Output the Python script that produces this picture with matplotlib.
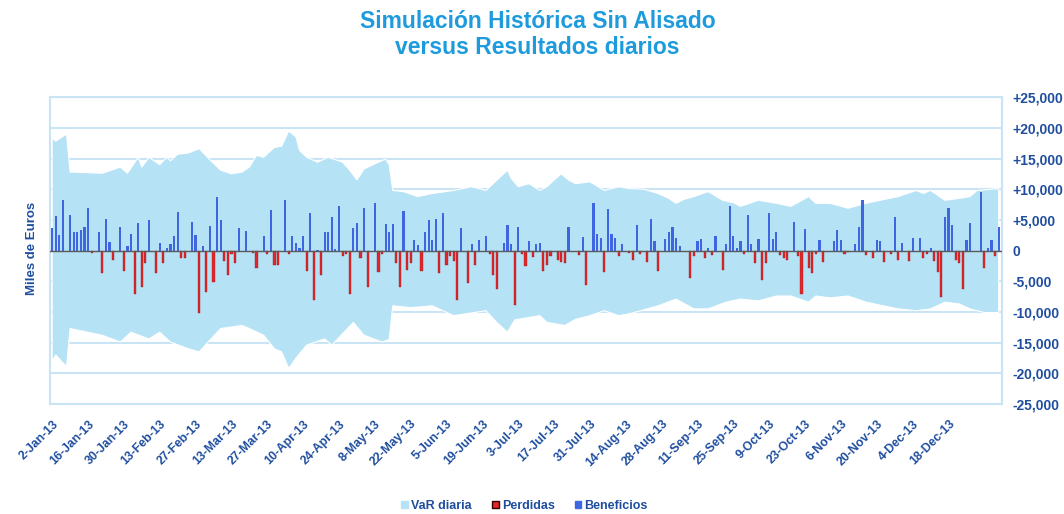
import matplotlib
matplotlib.use("Agg")
import matplotlib.pyplot as plt
import numpy as np
import pandas as pd
from matplotlib.ticker import FuncFormatter
from matplotlib.patches import Patch

plt.rcParams['font.family'] = ['Liberation Sans', 'DejaVu Sans']

# resultados diarios (miles de euros, en miles -> x1000), un valor por dia habil
resultados_k = [
    3.7, 5.6, 2.6, 8.2, 0.0, 5.8, 3.0, 3.0, 3.3, 3.9,
    6.9, -0.4, 0.0, 3.0, -3.6, 5.1, 1.4, -1.5, 0.0, 3.9,
    -3.3, 0.7, 2.7, -7.1, 4.5, -6.0, -2.0, 5.0, 0.0, -3.6,
    1.2, -2.0, 0.4, 1.0, 2.4, 6.3, -1.2, -1.2, 0.0, 4.6,
    2.6, -10.1, 0.7, -6.8, 4.0, -5.1, 8.8, 5.0, -1.7, -3.9,
    -0.6, -2.1, 3.7, 0.0, 3.2, 0.0, -0.4, -2.8, 0.0, 2.4,
    -0.5, 6.6, -2.3, -2.3, 0.0, 8.2, -0.6, 2.4, 1.2, 0.5,
    2.4, -3.3, 6.1, -8.0, 0.1, -3.9, 3.0, 3.1, 5.4, 0.2,
    7.2, -0.9, -0.6, -7.1, 3.7, 4.5, -1.2, 7.0, -6.0, 0.0,
    7.8, -3.5, -0.5, 4.4, 3.0, 4.4, -2.0, -6.0, 6.5, -3.1,
    -2.0, 1.8, 0.9, -3.3, 3.0, 5.0, 1.8, 5.2, -3.6, 6.2,
    -2.4, -0.9, -1.7, -8.0, 3.7, 0.0, -5.3, 1.0, -2.4, 1.8,
    0.0, 2.4, -0.6, -3.9, -6.2, 0.0, 1.3, 4.1, 1.0, -8.9,
    3.9, -0.6, -2.5, 1.6, -1.1, 1.0, 1.2, -3.4, -2.4, -0.9,
    0.0, -1.6, -1.9, -2.0, 3.8, 0.0, 0.0, -0.8, 2.2, -5.6,
    0.0, 7.7, 2.7, 2.0, -3.5, 6.7, 2.7, 2.0, -0.9, 1.0,
    0.0, -0.4, -1.6, 4.2, -0.5, 0.0, -1.9, 5.2, 1.5, -3.3,
    0.0, 1.9, 3.0, 3.9, 2.0, 0.7, 0.0, 0.0, -4.4, -0.9,
    1.5, 1.9, -1.2, 0.4, -0.8, 2.4, 0.0, -3.1, 1.0, 7.3,
    2.3, 0.4, 1.5, -0.5, 5.8, 1.1, -2.0, 1.9, -4.8, -2.0,
    6.2, 1.9, 3.1, -0.8, -1.2, -1.6, 0.0, 4.6, -0.9, -7.0,
    3.5, -2.8, -3.6, -0.5, 1.8, -1.9, 0.0, 0.0, 1.5, 3.3,
    1.8, -0.6, -0.2, 0.0, 1.0, 3.8, 8.2, -0.8, 0.0, -1.2,
    1.8, 1.5, -1.9, 0.0, -0.5, 5.5, -1.5, 1.3, 0.0, -1.7,
    2.0, 0.0, 2.0, -1.2, -0.6, 0.4, -1.7, -3.5, -7.6, 5.5,
    6.9, 4.2, -1.5, -2.0, -6.3, 1.8, 4.5, 0.0, 0.0, 9.5,
    -2.8, 0.4, 1.7, -0.9, 3.8,
]

# VaR diaria: dia habil y nivel (miles), limite superior e inferior
var_sup_dia = [0, 1, 4, 5, 14, 16, 19, 21, 24, 25, 27, 30, 32, 33, 35, 38, 41, 44,
               47, 50, 53, 55, 57, 59, 62, 64, 66, 68, 69, 71, 74, 77, 79, 81, 83,
               85, 87, 91, 93, 94, 95, 98, 102, 106, 112, 117, 121, 125, 127, 128,
               130, 133, 136, 138, 140, 142, 144, 146, 150, 154, 158, 161, 165,
               169, 172, 174, 176, 179, 183, 187, 190, 192, 197, 202, 206, 211,
               213, 217, 222, 227, 231, 236, 241, 243, 245, 249, 253, 256, 258, 264]
var_sup_k = [18.4, 17.8, 19.0, 12.8, 12.6, 13.0, 13.6, 12.6, 15.2, 13.6, 15.2, 14.0,
             15.2, 14.6, 15.7, 15.9, 16.6, 14.8, 13.1, 12.5, 12.8, 13.6, 15.5, 15.2,
             16.8, 17.0, 19.5, 18.5, 16.3, 15.2, 14.4, 15.2, 14.8, 14.4, 13.1, 11.5,
             13.3, 14.4, 14.9, 14.0, 9.8, 9.6, 8.8, 9.3, 9.8, 10.4, 9.8, 12.0, 13.1,
             11.8, 10.4, 10.9, 9.8, 10.4, 11.5, 12.5, 11.5, 10.9, 11.2, 9.8, 10.4,
             10.1, 10.0, 9.3, 8.5, 7.7, 8.3, 8.8, 9.6, 8.2, 7.8, 7.2, 8.2, 7.7, 7.2,
             8.8, 7.7, 7.7, 6.9, 7.7, 8.2, 8.8, 9.8, 9.3, 9.8, 8.2, 8.5, 8.8, 9.8, 10.1]

var_inf_dia = [0, 1, 4, 5, 14, 19, 22, 27, 30, 33, 38, 41, 47, 53, 55, 59, 62, 64,
               66, 68, 71, 76, 78, 84, 87, 92, 94, 95, 100, 106, 112, 121, 124, 127,
               129, 136, 138, 143, 146, 150, 154, 158, 161, 169, 174, 179, 183, 188,
               192, 197, 202, 206, 211, 213, 217, 222, 227, 231, 236, 241, 245, 249,
               253, 256, 260, 264]
var_inf_k = [18.1, 17.0, 18.9, 12.7, 13.8, 14.9, 13.3, 14.4, 13.3, 14.9, 16.0, 16.5,
             12.7, 12.2, 12.7, 13.8, 16.0, 16.5, 19.2, 17.5, 15.4, 14.4, 15.4, 11.7,
             13.8, 14.9, 14.5, 9.0, 9.3, 9.0, 10.6, 9.8, 11.7, 13.3, 11.3, 10.6, 11.7,
             12.2, 11.2, 10.6, 9.8, 10.6, 10.3, 9.0, 7.9, 9.5, 9.5, 8.4, 7.9, 8.2, 7.4,
             7.4, 8.4, 7.4, 7.7, 7.4, 8.4, 8.9, 9.5, 9.8, 9.5, 8.4, 8.7, 9.5, 10.1, 10.1]

res = np.array(resultados_k) * 1000
n = len(res)
dias = np.arange(n)
fechas = pd.bdate_range('2013-01-02', periods=n)
etiquetas = [f"{d.day}-{d.strftime('%b-%y')}" for d in fechas[:251:10]]

AZUL_TXT = '#1f4e9f'
BANDA = '#b6e2f6'
REJILLA = '#c8e4f5'

fig = plt.figure(figsize=(10.64, 5.14), dpi=100)
ax = fig.add_axes([0.047, 0.214, 0.895, 0.597])

# banda VaR
poly_x = list(var_sup_dia) + list(var_inf_dia)[::-1]
poly_y = [v * 1000 for v in var_sup_k] + [-v * 1000 for v in var_inf_k][::-1]
ax.fill(poly_x, poly_y, color=BANDA, edgecolor='white', lw=0.8, zorder=1)

pos = res >= 0
ax.bar(dias[pos], res[pos], width=0.6, color='#3e66e0', lw=0, zorder=3)
ax.bar(dias[~pos], res[~pos], width=0.6, color='#e3262a', edgecolor='#9a1515',
       lw=0.25, zorder=3)
ax.axhline(0, color='#5a5a5a', lw=1.0, zorder=4)

ax.set_xlim(-0.6, 265)
ax.set_ylim(-25000, 25000)
ax.set_yticks(np.arange(-25000, 25001, 5000))
ax.yaxis.tick_right()
ax.yaxis.set_major_formatter(FuncFormatter(
    lambda v, p: f"+{int(v):,}" if v > 0 else f"{int(v):,}"))
ax.yaxis.grid(True, color=REJILLA, lw=1.5)
ax.set_axisbelow(True)
ax.tick_params(axis='y', length=0, pad=7, labelsize=10, labelcolor=AZUL_TXT)
for t in ax.get_yticklabels():
    t.set_fontweight('bold')

ax.set_xticks(dias[:251:10])
ax.set_xticklabels(etiquetas, rotation=45, ha='right', rotation_mode='anchor',
                   fontsize=8.8, fontweight='bold', color=AZUL_TXT)
ax.tick_params(axis='x', length=0, pad=10)

for s in ax.spines.values():
    s.set_color(REJILLA)
    s.set_linewidth(1.5)

fig.text(0.030, 0.517, 'Miles de Euros', rotation=90, ha='center', va='center',
         fontsize=9.5, fontweight='bold', color=AZUL_TXT)
fig.text(0.505, 0.959, 'Simulación Histórica Sin Alisado', ha='center', va='center',
         fontsize=16.5, fontweight='bold', color='#1d9bdc')
fig.text(0.505, 0.907, 'versus Resultados diarios', ha='center', va='center',
         fontsize=16.5, fontweight='bold', color='#1d9bdc')

handles = [Patch(facecolor=BANDA, edgecolor=BANDA, label='VaR diaria'),
           Patch(facecolor='#e3262a', edgecolor='#300000', label='Perdidas'),
           Patch(facecolor='#3e66e0', edgecolor='#3e66e0', label='Beneficios')]
leg = fig.legend(handles=handles, ncol=3, loc='center', bbox_to_anchor=(0.493, 0.016),
                 frameon=False, fontsize=9, handlelength=0.55, handleheight=0.55,
                 handletextpad=0.25, columnspacing=1.6)
for t in leg.get_texts():
    t.set_color(AZUL_TXT)
    t.set_fontweight('bold')

fig.savefig('out.png', dpi=100)
